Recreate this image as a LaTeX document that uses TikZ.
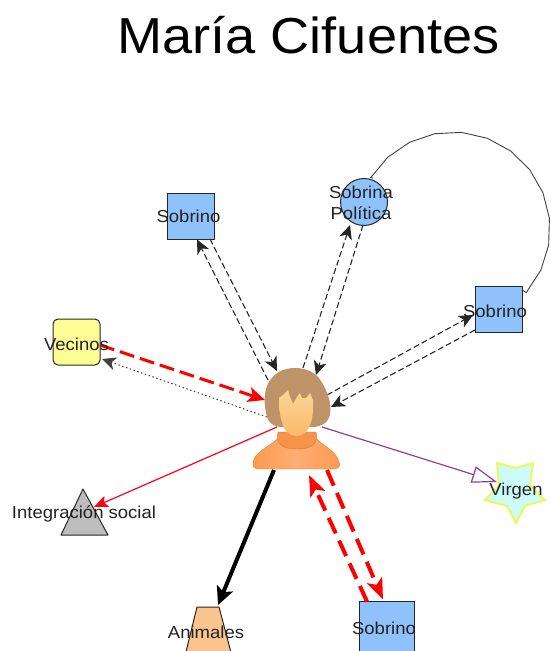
\documentclass[tikz,border=0pt]{standalone}
\usepackage{fontspec}
\setmainfont[FakeStretch=1.07]{Liberation Sans}
\usetikzlibrary{arrows.meta,calc}
\definecolor{sqblue}{HTML}{8FC1FB}
\definecolor{yel}{HTML}{FDFD96}
\definecolor{tgrey}{HTML}{BDBDBD}
\definecolor{torange}{HTML}{FBC48E}
\definecolor{stcyan}{HTML}{CCFBFB}
\definecolor{styel}{HTML}{EEF85A}
\definecolor{purp}{HTML}{8E3F96}
\definecolor{hairc}{HTML}{BE9368}
\definecolor{bodyc}{HTML}{FB9A50}
\definecolor{bodyl}{HTML}{FDAE72}
\definecolor{collarc}{HTML}{F6924A}
\definecolor{facea}{HTML}{FDD695}
\definecolor{faceb}{HTML}{F8B868}
\definecolor{txt}{HTML}{222222}
\tikzset{
  shapebox/.style={draw=black!85,line width=1pt,inner sep=0pt,outer sep=0pt},
  squarenode/.style={shapebox,rectangle,fill=sqblue,minimum width=47pt,minimum height=46pt},
  lab/.style={font=\fontsize{17.3}{21}\selectfont,text=txt,inner sep=0pt,align=center},
  anchorpt/.style={inner sep=0pt,outer sep=0pt,minimum size=1pt},
  blackdash/.style={draw=black!85,line width=1.1pt,dash pattern=on 6pt off 3pt,-{Stealth[length=14pt,width=13pt,inset=4pt]}},
  reddashA/.style={draw=red,line width=3pt,dash pattern=on 15pt off 6pt,-{Stealth[length=17pt,width=15pt,inset=4pt]}},
  reddashB/.style={draw=red,line width=4pt,dash pattern=on 17pt off 8pt,-{Stealth[length=21pt,width=16pt,inset=5pt]}},
  dotline/.style={draw=black!75,line width=1pt,dash pattern=on 1.5pt off 2.5pt,-{Stealth[length=14pt,width=13pt,inset=4pt]}},
  thinred/.style={draw=red!90!magenta,line width=1.2pt,-{Stealth[length=14pt,width=12pt,inset=3pt]}},
  openarrow/.style={draw=purp,line width=1.2pt,-{Triangle[open,length=25pt,width=17pt,line width=1.2pt]}},
  thickblack/.style={draw=black,line width=4pt,-{Stealth[length=18pt,width=17pt,inset=4pt]}},
  selfloop/.style={draw=black!75,line width=0.9pt},
}
\begin{document}
\begin{tikzpicture}[x=1pt,y=-1pt]
\path[use as bounding box,clip] (0,0) rectangle (550,651);

\node[font=\fontsize{50.6}{60}\selectfont,text=black,inner sep=0pt,anchor=base] (title) at (308.5,53) {María Cifuentes};

% shape nodes
\node[squarenode] (sa) at (190.5,216) {};
\node[shapebox,circle,fill=sqblue,minimum size=47pt] (sp) at (364,202) {};
\node[squarenode] (sr) at (498.5,309) {};
\node[shapebox,rectangle,rounded corners=5pt,fill=yel,minimum width=47pt,minimum height=46pt] (vec) at (76.5,342) {};
\node[squarenode,minimum width=55pt,minimum height=55pt] (sb) at (386.5,628.5) {};
\node[anchorpt] (tri) at (84.5,512) {};
\node[anchorpt] (anim) at (208,631) {};
\node[anchorpt] (star) at (515,492) {};
\node[anchorpt,minimum width=86pt,minimum height=101pt] (ego) at (297,420) {};

% triangle, trapezoid, star
\draw[shapebox,fill=tgrey,line join=round] (61,535) -- (83,489) -- (108,535) -- cycle;
\draw[shapebox,fill=torange] (197,607) -- (219,607) -- (233,660) -- (184,660) -- cycle;
\draw[draw=styel,line width=2pt,fill=stcyan,line join=miter] (497,463) -- (516,468) -- (533,463) -- (530,486) -- (545,500) -- (525,506) -- (516,523) -- (507,506) -- (485,500) -- (499,486) -- cycle;

% connectors
\draw[selfloop] ($(sp)+(9,-24)$) -- plot[domain=-148:41,samples=13] ({453+97*cos(\x)},{229+97*sin(\x)}) -- ($(sr)+(24,-19)$);
\draw[blackdash] ($(ego)+(-29,-40)$) -- ($(sa)+(6.5,23.5)$);
\draw[blackdash] ($(sa)+(19.5,23)$) -- ($(ego)+(-20,-49)$);
\draw[blackdash] ($(ego)+(6,-52)$) -- ($(sp)+(-14,23)$);
\draw[blackdash] ($(sp)+(-1,23)$) -- ($(ego)+(19,-45)$);
\draw[blackdash] ($(ego)+(30,-25)$) -- ($(sr)+(-25.5,6)$);
\draw[blackdash] ($(sr)+(-23.5,21)$) -- ($(ego)+(34,-13)$);
\draw[reddashA] ($(vec)+(23.5,3)$) -- ($(ego)+(-32,-20)$);
\draw[dotline] ($(ego)+(-30,-3)$) -- ($(vec)+(25.5,17)$);
\draw[thinred] ($(ego)+(-20,7)$) -- ($(tri)+(9.5,-5)$);
\draw[openarrow] ($(ego)+(25,7)$) -- ($(star)+(-18,-10)$);
\draw[thickblack] ($(ego)+(-23,50)$) -- ($(anim)+(10,-26)$);
\draw[reddashB] ($(sb)+(-19.5,-27)$) -- ($(ego)+(12,55)$);
\draw[reddashB] ($(ego)+(30,50)$) -- ($(sb)+(-3.5,-29)$);

% person
\path[left color=bodyc,right color=bodyc,middle color=bodyl,draw=collarc!90!black,line width=0.4pt]
  (280,436) .. controls (272,446) and (256,450) .. (253,462) .. controls (252,467) and (255,469) .. (259,469)
  -- (334,469) .. controls (338,469) and (341,466) .. (339,462) .. controls (336,450) and (322,446) .. (314,436) -- cycle;
\path[fill=collarc,draw=collarc!85!black,line width=0.4pt] (278,432) .. controls (275,445) and (284,449) .. (297,449) .. controls (310,449) and (319,445) .. (316,432) -- cycle;
\path[fill=hairc]
  (295,368) .. controls (305,368) and (316,372) .. (321,381)
  .. controls (328,392) and (332,405) .. (330,414)
  .. controls (329,422) and (322,427) .. (312,427)
  -- (282,427) .. controls (273,427) and (267,422) .. (266,412)
  .. controls (263,400) and (265,385) .. (271,379)
  .. controls (277,371) and (286,368) .. (295,368) -- cycle;
\path[top color=facea,bottom color=faceb]
  (279,398) -- (284,394) -- (288,390) -- (290,397) -- (293,404) -- (297,397) -- (300,393) -- (302,398) -- (306,398) -- (310,393) -- (313,400)
  .. controls (314,415) and (311,428) .. (305,433)
  .. controls (300,437) and (293,437) .. (288,433)
  .. controls (282,428) and (279,415) .. (279,398) -- cycle;

% labels
\node[lab] (la) at (188.5,216) {Sobrino};
\node[lab] (lp) at (361,203) {Sobrina\\Política};
\node[lab] (lr) at (495,311) {Sobrino};
\node[lab] (lv) at (76.5,344) {Vecinos};
\node[lab] (li) at (84,513.5) {Integración social};
\node[lab] (ln) at (206,632) {Animales};
\node[lab] (lb) at (384,628) {Sobrino};
\node[lab] (lg) at (516,491) {Virgen};
\end{tikzpicture}
\end{document}
